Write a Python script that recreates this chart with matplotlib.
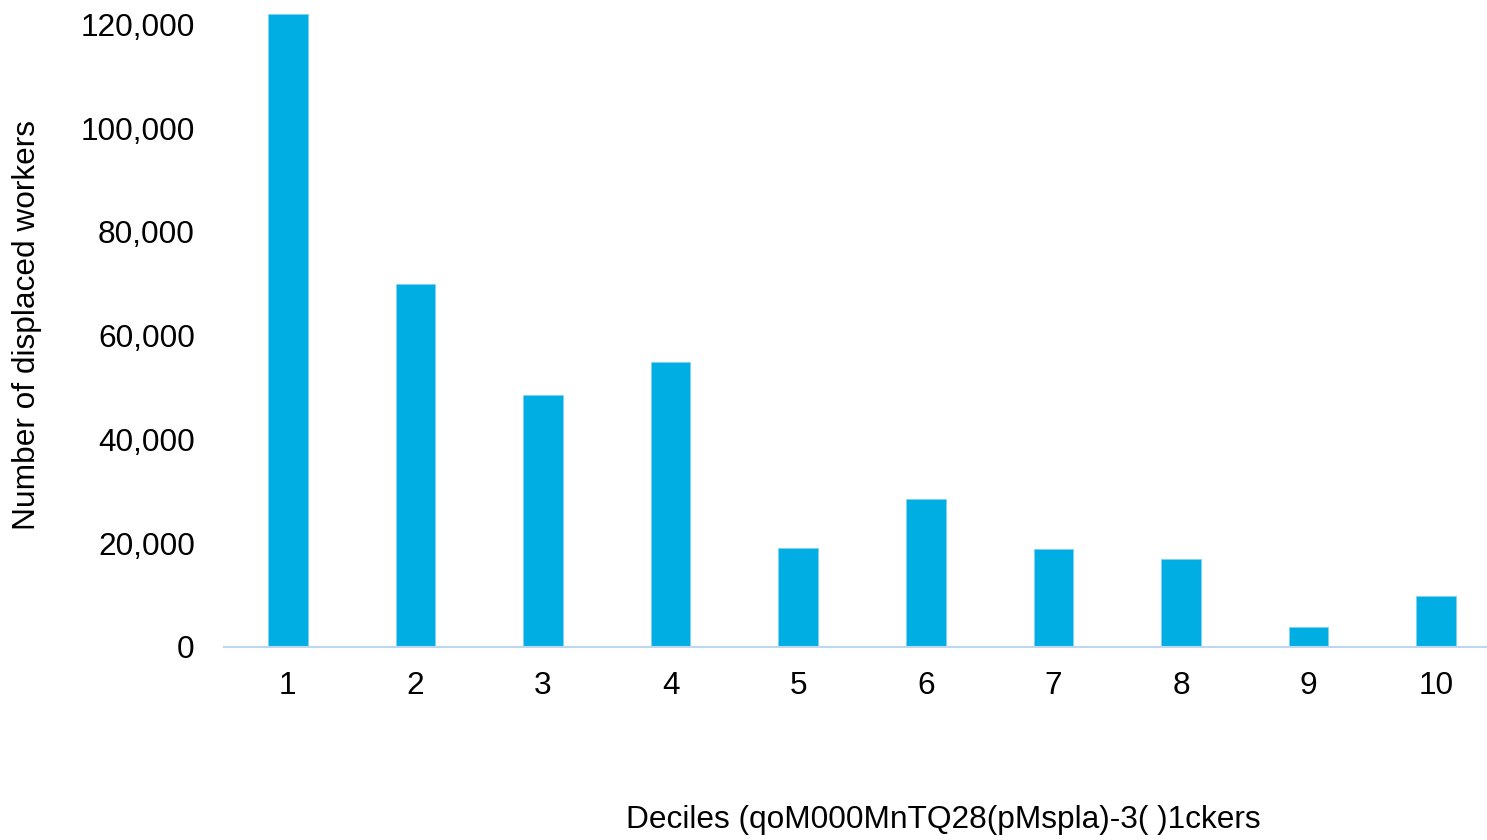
from matplotlib import pyplot as plt
from matplotlib.ticker import FuncFormatter

deciles = [1, 2, 3, 4, 5, 6, 7, 8, 9, 10]
displaced = [122000, 70000, 48650, 55000, 19170, 28500, 18850, 16900, 3760, 9900]
yticks = [0, 20000, 40000, 60000, 80000, 100000, 120000]

plt.rcParams['font.family'] = ['Liberation Sans', 'DejaVu Sans']

W, H = 1487, 840
fig = plt.figure(figsize=(W / 100, H / 100), dpi=100)
# axes box in pixels: x 224..1500, y from 647 (zero) up past the top edge
px_per_unit = 5.19 / 1000
ymax = 140000
left, right = 224, 1500
bottom = 647
top = bottom - ymax * px_per_unit
ax = fig.add_axes([left / W, (H - bottom) / H, (right - left) / W, (bottom - top) / H])

ax.bar(deciles, displaced, width=0.31, color='#00AEE3', edgecolor='#7FD3F0', linewidth=0.6)

ax.set_xlim(0.5, 10.5)
ax.set_ylim(0, ymax)
ax.set_xticks(deciles)
ax.set_yticks(yticks)
ax.yaxis.set_major_formatter(FuncFormatter(lambda v, p: f"{int(v):,}"))
ax.tick_params(axis='both', length=0, labelsize=22.8, colors='black')
ax.tick_params(axis='x', pad=17)
ax.tick_params(axis='y', pad=21)

for s in ['top', 'right', 'left']:
    ax.spines[s].set_visible(False)
ax.spines['bottom'].set_color('#BDD7EE')
ax.spines['bottom'].set_linewidth(1.5)

fig.text(27 / W, 1 - 325 / H, "Number of displaced workers", rotation=90,
         ha='center', va='center', fontsize=22.8)
fig.text(943 / W, 1 - 820 / H, "Deciles (qoM000MnTQ28(pMspla)-3( )1ckers",
         ha='center', va='center', fontsize=22.8)

fig.savefig('out.png', dpi=100)
